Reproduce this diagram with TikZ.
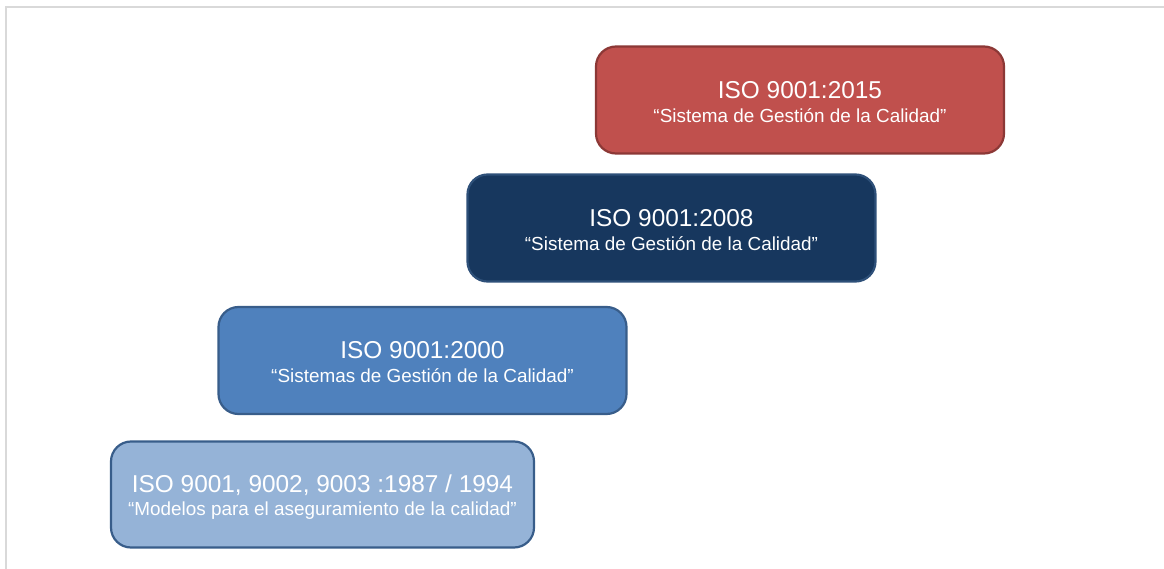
\documentclass[tikz,border=0pt]{standalone}
\usepackage{fontspec}
\setmainfont{Liberation Sans}
\definecolor{frameGrey}{HTML}{D9D9D9}
\definecolor{redFill}{HTML}{C0504D}
\definecolor{redLine}{HTML}{8C3836}
\definecolor{navyFill}{HTML}{17375E}
\definecolor{navyLine}{HTML}{2E5079}
\definecolor{midFill}{HTML}{4F81BD}
\definecolor{blueLine}{HTML}{385D8A}
\definecolor{lightFill}{HTML}{95B3D7}
\tikzset{
  stage/.style={draw, line width=2.2bp, rounded corners=20bp, inner sep=0pt},
  ttl/.style={anchor=base, text=white, inner sep=0pt, font=\fontsize{24.4bp}{27bp}\selectfont},
  sub/.style={anchor=base, text=white, inner sep=0pt, font=\fontsize{18.9bp}{22bp}\selectfont},
}
\begin{document}
\begin{tikzpicture}[x=1bp, y=-1bp]
  \useasboundingbox (0,0) rectangle (1164,569);
  % page frame: top and left edges only
  \draw[frameGrey, line width=2bp] (5.5,569) -- (5.5,7.5) -- (1164,7.5);

  % stages, bottom-left to top-right
  \node[stage, fill=lightFill, draw=blueLine, minimum width=423bp, minimum height=106bp] (b1) at (322.5,494.5) {};
  \node[stage, fill=midFill, draw=blueLine, minimum width=408bp, minimum height=107bp] (b2) at (422.5,360.5) {};
  \node[stage, fill=navyFill, draw=navyLine, minimum width=408bp, minimum height=107bp] (b3) at (671.5,228) {};
  \node[stage, fill=redFill, draw=redLine, minimum width=408bp, minimum height=107bp] (b4) at (800,100) {};

  \node[ttl] (t1) at ([yshift=-52bp]b1.north) {ISO 9001, 9002, 9003 :1987 / 1994};
  \node[sub] (s1) at ([yshift=-75bp]b1.north) {“Modelos para el aseguramiento de la calidad”};

  \node[ttl] (t2) at ([yshift=-53bp]b2.north) {ISO 9001:2000};
  \node[sub] (s2) at ([yshift=-77bp]b2.north) {“Sistemas de Gestión de la Calidad”};

  \node[ttl] (t3) at ([yshift=-53bp]b3.north) {ISO 9001:2008};
  \node[sub] (s3) at ([yshift=-77bp]b3.north) {“Sistema de Gestión de la Calidad”};

  \node[ttl] (t4) at ([yshift=-53bp]b4.north) {ISO 9001:2015};
  \node[sub] (s4) at ([yshift=-77bp]b4.north) {“Sistema de Gestión de la Calidad”};
\end{tikzpicture}
\end{document}
